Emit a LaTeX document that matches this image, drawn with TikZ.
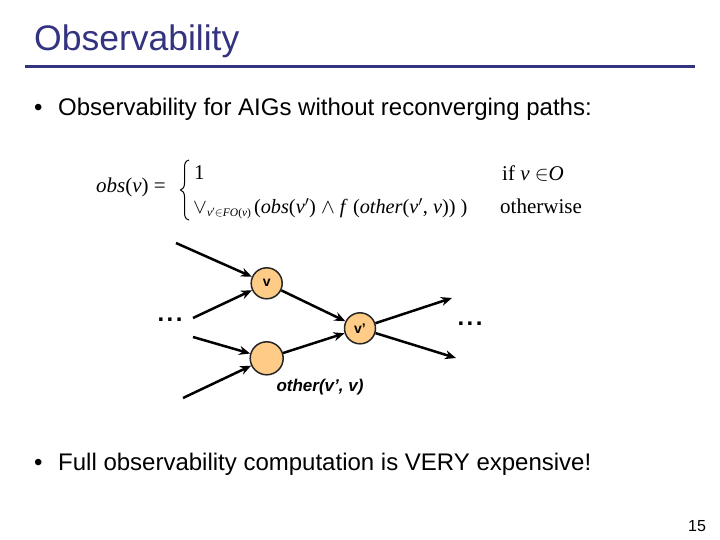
\documentclass[tikz,border=0pt]{standalone}
\usepackage{fontspec}
\setmainfont{Liberation Serif}
\newfontfamily\arial{Liberation Sans}
\usetikzlibrary{arrows.meta}
\definecolor{titleblue}{RGB}{51,51,128}
\definecolor{nodefill}{RGB}{255,204,136}
\begin{document}
\begin{tikzpicture}[x=1pt,y=-1pt,
  gate/.style={circle, draw=black!85, line width=1.5pt, fill=nodefill, minimum size=31pt, inner sep=0pt, font=\arial\bfseries\fontsize{14}{14}\selectfont},
  wire/.style={line width=2.5pt, -{Stealth[length=11pt,width=9pt]}},
  txt/.style={anchor=base west, inner sep=0pt},
  body/.style={txt, font=\arial\fontsize{24}{24}\selectfont},
  frm/.style={txt, font=\fontsize{21}{21}\selectfont},
  dots/.style={inner sep=0pt, font=\arial\bfseries\fontsize{24}{24}\selectfont},
]
\useasboundingbox (0,0) rectangle (720,540);
% title
\node[txt, text=titleblue, font=\arial\fontsize{35.5}{35.5}\selectfont] (title) at (34,51) {Observability};
\coordinate (rl) at (25,67);
\coordinate (rr) at (695,67);
\draw[titleblue, line width=3pt] (rl) -- (rr);
% bullets
\node[body] (d1) at (34,116) {•};
\node[body] (b1) at (58,116) {Observability for AIGs without reconverging paths:};
\node[body] (d2) at (34,470) {•};
\node[body] (b2) at (58,470) {Full observability computation is VERY expensive!};
\node[txt, font=\arial\fontsize{16}{16}\selectfont] (pg) at (688,531) {15};
% formula
\node[frm] (lhs) at (96,193) {\textit{obs}(\textit{v}) =};
\draw[line width=1pt] (189,160) .. controls (185,161) and (184.5,164) .. (184.5,168)
  -- (184.5,183) .. controls (184.5,187) and (183,189.5) .. (180.5,190)
  .. controls (183,190.5) and (184.5,193) .. (184.5,197)
  -- (184.5,212) .. controls (184.5,216) and (185,219) .. (189,220);
\node[frm] (one) at (194,180) {1};
\node[frm] (c1) at (502,181) {if \textit{v} $\in$\textit{O}};
\node[frm] (l2) at (193,214) {$\vee$\raisebox{-3pt}{\fontsize{11.5}{11.5}\selectfont\textit{v}$'$$\in$\textit{FO}(\textit{v})}\hspace{3pt}{\fontsize{20.3}{20.3}\selectfont(\textit{obs}(\textit{v}$'$) $\wedge$ \textit{f} (\textit{other}(\textit{v}$'$, \textit{v})) )}};
\node[frm] (c2) at (500,214) {otherwise};
% graph
\node[gate] (v) at (266.7,283.3) {v};
\node[gate] (vp) at (360,328.3) {v’};
\node[gate, minimum size=33pt] (o) at (266.7,358.3) {};
\node[txt, font=\arial\bfseries\itshape\fontsize{17}{17}\selectfont, anchor=base] (ol) at (320,391) {other(v’, v)};
\node[dots] (ld) at (170,320) {.\hspace{2.5pt}.\hspace{2.5pt}.};
\node[dots] (rd) at (470,324) {.\hspace{2.5pt}.\hspace{2.5pt}.};
\coordinate (i1) at (176,243);
\coordinate (i2) at (193,318);
\coordinate (i3) at (193,337);
\coordinate (i4) at (183,398);
\coordinate (o1) at (452,298);
\coordinate (o2) at (456,358);
\draw[wire] (i1) -- (v);
\draw[wire] (i2) -- (v);
\draw[wire] (i3) -- (o);
\draw[wire] (i4) -- (o);
\draw[wire] (v) -- (vp);
\draw[wire] (o) -- (vp);
\draw[wire] (vp) -- (o1);
\draw[wire] (vp) -- (o2);
\end{tikzpicture}
\end{document}
